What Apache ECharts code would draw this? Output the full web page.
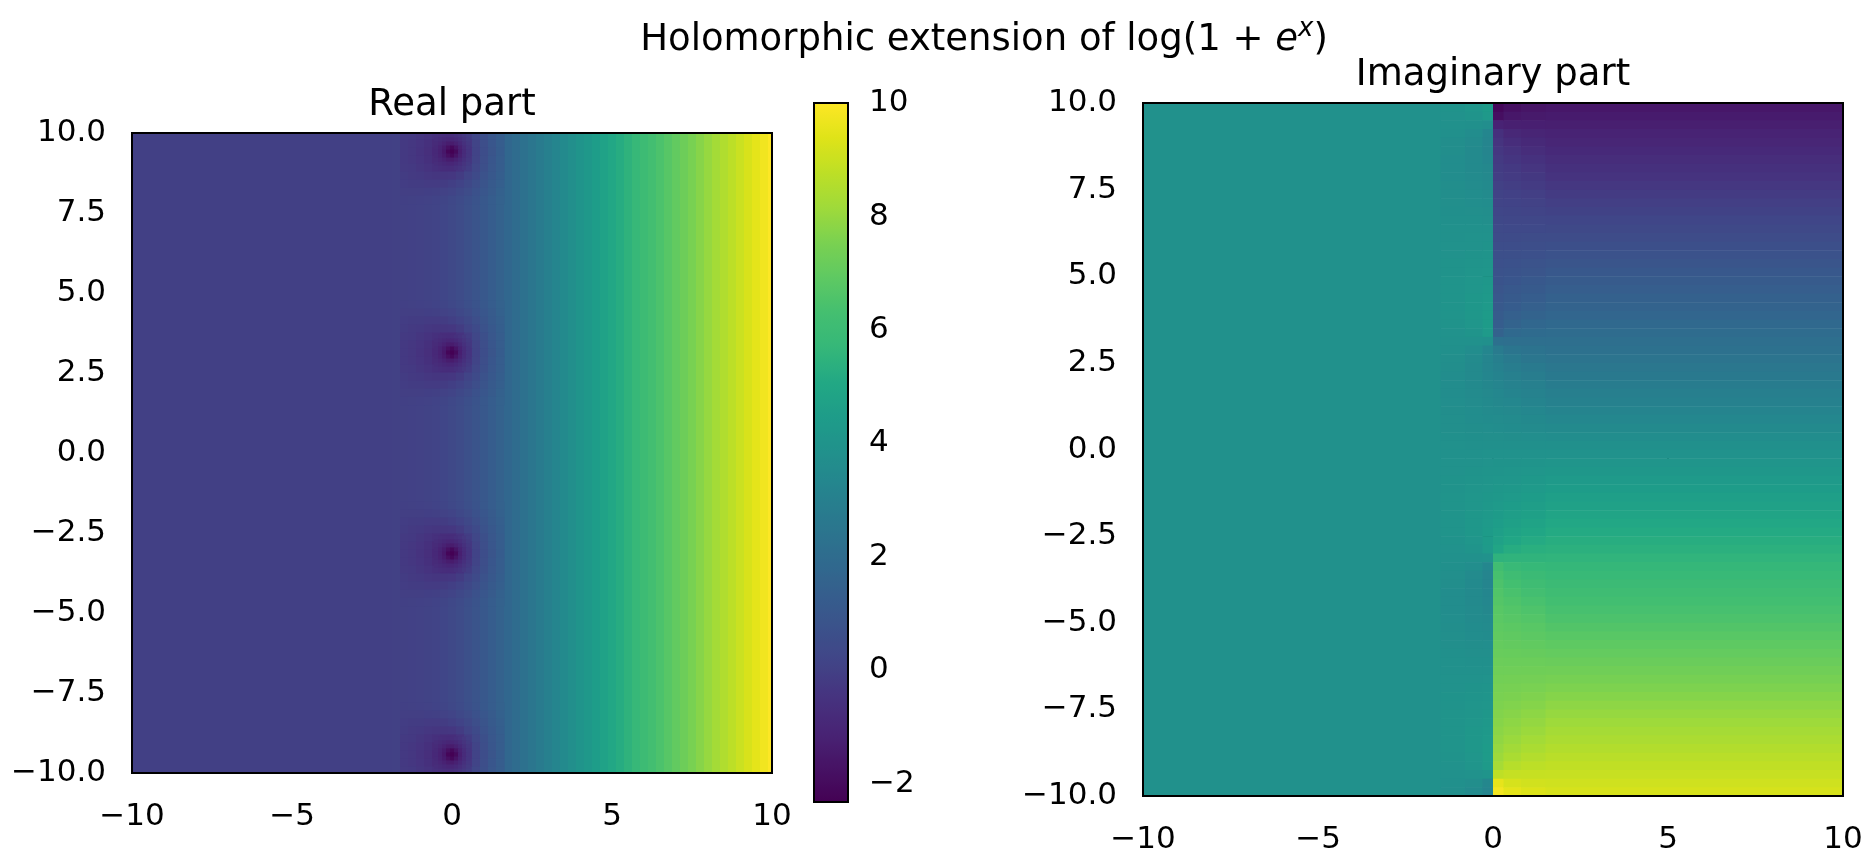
<!DOCTYPE html>
<html>
<head>
<meta charset="utf-8">
<title>Holomorphic extension of log(1 + e^x)</title>
<script src="https://cdn.jsdelivr.net/npm/echarts@6/dist/echarts.min.js"></script>
<style>
  html, body { margin: 0; padding: 0; background: #fff; }
  #chart { width: 1866px; height: 855px; }
</style>
</head>
<body>
<div id="chart"></div>
<script>
// ---- values ----

// real part, one value per column strip, x = -10 .. 10 by 0.25
const realColumns = [
  0, 0, 0, 0, 0, 0, 0, 0, 0, 0,
  0, 0, 0, 0, 0, 0, 0, 0, 0, 0,
  0, 0, 0, 0, 0, 0, 0, 0, 0, 0,
  0.00, 0.01, 0.01, 0.02, 0.02, 0.04, 0.06, 0.10, 0.16, 0.24,
  0.35, 0.49, 0.66, 0.85, 1.06, 1.29, 1.52, 1.77, 2.01, 2.26,
  2.50, 2.75, 3.00,
  3.25, 3.5, 3.75, 4.0, 4.25, 4.5, 4.75, 5.0, 5.25, 5.5,
  5.75, 6.0, 6.25, 6.5, 6.75, 7.0, 7.25, 7.5, 7.75, 8.0,
  8.25, 8.5, 8.75, 9.0, 9.25, 9.5, 9.75, 10.0
];

// the dark spots on the x = 0 line
const poleCentres = [9.42, 3.14, -3.14, -9.42];

// real part around one dark spot: rows dy = +1.5 .. -1.5, columns dx = -1.5 .. 1.5 (step 0.25)
const poleProfile = [
  [ 0.01,  0.02,  0.04,  0.07,  0.12,  0.20,  0.31,  0.45,  0.62, 0.82, 1.04, 1.27, 1.51],
  [-0.05, -0.05, -0.05, -0.04, -0.01,  0.06,  0.16,  0.31,  0.49, 0.71, 0.95, 1.20, 1.45],
  [-0.11, -0.13, -0.15, -0.17, -0.17, -0.13, -0.04,  0.12,  0.33, 0.58, 0.85, 1.12, 1.39],
  [-0.16, -0.21, -0.26, -0.32, -0.37, -0.38, -0.31, -0.13,  0.13, 0.43, 0.74, 1.04, 1.34],
  [-0.21, -0.27, -0.36, -0.47, -0.60, -0.72, -0.70, -0.46, -0.10, 0.28, 0.64, 0.98, 1.29],
  [-0.24, -0.32, -0.43, -0.59, -0.82, -1.16, -1.39, -0.91, -0.32, 0.16, 0.57, 0.93, 1.26],
  [-0.25, -0.34, -0.46, -0.64, -0.93, -1.51, -2.32, -1.26, -0.43, 0.11, 0.54, 0.91, 1.25],
  [-0.24, -0.32, -0.43, -0.59, -0.82, -1.16, -1.39, -0.91, -0.32, 0.16, 0.57, 0.93, 1.26],
  [-0.21, -0.27, -0.36, -0.47, -0.60, -0.72, -0.70, -0.46, -0.10, 0.28, 0.64, 0.98, 1.29],
  [-0.16, -0.21, -0.26, -0.32, -0.37, -0.38, -0.31, -0.13,  0.13, 0.43, 0.74, 1.04, 1.34],
  [-0.11, -0.13, -0.15, -0.17, -0.17, -0.13, -0.04,  0.12,  0.33, 0.58, 0.85, 1.12, 1.39],
  [-0.05, -0.05, -0.05, -0.04, -0.01,  0.06,  0.16,  0.31,  0.49, 0.71, 0.95, 1.20, 1.45],
  [ 0.01,  0.02,  0.04,  0.07,  0.12,  0.20,  0.31,  0.45,  0.62, 0.82, 1.04, 1.27, 1.51]
];
// finer look at the core of a spot: rows dy = +0.5 .. -0.5, columns dx = -0.5 .. 0.5 (step 0.125)
const poleCore = [
  [-0.60, -0.66, -0.72, -0.74, -0.70, -0.61, -0.46, -0.29, -0.10],
  [-0.72, -0.82, -0.93, -1.00, -0.99, -0.87, -0.68, -0.45, -0.22],
  [-0.82, -0.98, -1.16, -1.34, -1.39, -1.21, -0.91, -0.61, -0.32],
  [-0.90, -1.11, -1.40, -1.80, -2.08, -1.67, -1.15, -0.74, -0.40],
  [-0.93, -1.16, -1.51, -2.14, -2.32, -2.02, -1.26, -0.79, -0.43],
  [-0.90, -1.11, -1.40, -1.80, -2.08, -1.67, -1.15, -0.74, -0.40],
  [-0.82, -0.98, -1.16, -1.34, -1.39, -1.21, -0.91, -0.61, -0.32],
  [-0.72, -0.82, -0.93, -1.00, -0.99, -0.87, -0.68, -0.45, -0.22],
  [-0.60, -0.66, -0.72, -0.74, -0.70, -0.61, -0.46, -0.29, -0.10]
];

// imaginary part, rows from the top (y = 9.875) down to y = -9.875, step 0.25
const imagLeftMid = [ // x in [-1.5, -0.8]
  0.19, 0.09, -0.02, -0.13, -0.22, -0.28, -0.32, -0.32, -0.31, -0.28,
  -0.24, -0.19, -0.14, -0.08, -0.02, 0.04, 0.10, 0.15, 0.21, 0.25,
  0.29, 0.31, 0.32, 0.31, 0.27, 0.20, 0.11, -0.01, -0.12, -0.21,
  -0.28, -0.31, -0.32, -0.31, -0.29, -0.25, -0.20, -0.15, -0.09, -0.03,
  0.03, 0.09, 0.15, 0.20, 0.25, 0.29, 0.31, 0.32, 0.31, 0.28,
  0.21, 0.12, 0.01, -0.11, -0.20, -0.27, -0.31, -0.32, -0.31, -0.29,
  -0.25, -0.21, -0.15, -0.10, -0.04, 0.02, 0.08, 0.14, 0.19, 0.24,
  0.28, 0.31, 0.32, 0.32, 0.28, 0.22, 0.13, 0.02, -0.09, -0.19
];
const imagLeftNear = [ // x in [-0.8, -0.3]
  0.48, 0.26, -0.07, -0.36, -0.54, -0.61, -0.61, -0.58, -0.53, -0.46,
  -0.38, -0.30, -0.21, -0.12, -0.03, 0.06, 0.15, 0.24, 0.32, 0.41,
  0.48, 0.54, 0.59, 0.61, 0.59, 0.53, 0.30, -0.02, -0.33, -0.52,
  -0.60, -0.61, -0.59, -0.54, -0.47, -0.39, -0.31, -0.23, -0.14, -0.05,
  0.05, 0.14, 0.23, 0.31, 0.39, 0.47, 0.54, 0.59, 0.61, 0.60,
  0.52, 0.33, 0.02, -0.30, -0.53, -0.59, -0.61, -0.59, -0.54, -0.48,
  -0.41, -0.32, -0.24, -0.15, -0.06, 0.03, 0.12, 0.21, 0.30, 0.38,
  0.46, 0.53, 0.58, 0.61, 0.61, 0.54, 0.36, 0.07, -0.26, -0.48
];
const imagLeftEdge = [ // x in [-0.3, 0]
  1.03, 0.83, -0.30, -0.96, -1.04, -1.00, -0.92, -0.82, -0.72, -0.61,
  -0.50, -0.39, -0.27, -0.16, -0.04, 0.07, 0.19, 0.30, 0.42, 0.53,
  0.64, 0.75, 0.85, 0.94, 1.01, 1.03, 0.89, -0.10, -0.93, -1.04,
  -1.00, -0.93, -0.84, -0.73, -0.63, -0.52, -0.40, -0.29, -0.17, -0.06,
  0.06, 0.17, 0.29, 0.40, 0.52, 0.63, 0.73, 0.84, 0.93, 1.00,
  1.04, 0.93, 0.10, -0.89, -1.03, -1.01, -0.94, -0.85, -0.75, -0.64,
  -0.53, -0.42, -0.30, -0.19, -0.07, 0.04, 0.16, 0.27, 0.39, 0.50,
  0.61, 0.72, 0.82, 0.92, 1.00, 1.04, 0.96, 0.30, -0.83, -1.03
];
const imagRightEdge = [ // x in [0, 0.3]
  -10.91, -10.46, -9.08, -8.16, -7.84, -7.63, -7.46, -7.30, -7.16, -7.01,
  -6.87, -6.74, -6.60, -6.47, -6.33, -6.20, -6.06, -5.93, -5.79, -5.66,
  -5.52, -5.37, -5.22, -5.07, -4.89, -4.66, -4.26, -3.02, -1.95, -1.59,
  -1.37, -1.20, -1.04, -0.89, -0.75, -0.61, -0.47, -0.34, -0.20, -0.07,
  0.07, 0.20, 0.34, 0.47, 0.61, 0.75, 0.89, 1.04, 1.20, 1.37,
  1.59, 1.95, 3.02, 4.26, 4.66, 4.89, 5.07, 5.22, 5.37, 5.52,
  5.66, 5.79, 5.93, 6.06, 6.20, 6.33, 6.47, 6.60, 6.74, 6.87,
  7.01, 7.16, 7.30, 7.46, 7.63, 7.84, 8.16, 9.08, 10.46, 10.91
];
const imagRightNear = [ // x in [0.3, 0.8]
  -10.36, -9.88, -9.31, -8.76, -8.34, -8.02, -7.76, -7.54, -7.35, -7.17,
  -6.99, -6.82, -6.66, -6.50, -6.34, -6.18, -6.02, -5.86, -5.70, -5.53,
  -5.36, -5.17, -4.97, -4.74, -4.47, -4.16, -3.67, -3.10, -2.54, -2.11,
  -1.77, -1.51, -1.29, -1.09, -0.90, -0.73, -0.56, -0.40, -0.24, -0.08,
  0.08, 0.24, 0.40, 0.56, 0.73, 0.90, 1.09, 1.29, 1.51, 1.77,
  2.11, 2.54, 3.10, 3.67, 4.16, 4.47, 4.74, 4.97, 5.17, 5.36,
  5.53, 5.70, 5.86, 6.02, 6.18, 6.34, 6.50, 6.66, 6.82, 6.99,
  7.17, 7.35, 7.54, 7.76, 8.02, 8.34, 8.76, 9.31, 9.88, 10.36
];
const imagRightMid = [ // x in [0.8, 1.5]
  -10.07, -9.72, -9.35, -8.99, -8.65, -8.34, -8.06, -7.80, -7.57, -7.35,
  -7.13, -6.93, -6.74, -6.54, -6.35, -6.16, -5.97, -5.78, -5.58, -5.38,
  -5.16, -4.94, -4.70, -4.44, -4.15, -3.83, -3.48, -3.12, -2.76, -2.41,
  -2.10, -1.81, -1.55, -1.31, -1.09, -0.88, -0.68, -0.48, -0.29, -0.10,
  0.10, 0.29, 0.48, 0.68, 0.88, 1.09, 1.31, 1.55, 1.81, 2.10,
  2.41, 2.76, 3.12, 3.48, 3.83, 4.15, 4.44, 4.70, 4.94, 5.16,
  5.38, 5.58, 5.78, 5.97, 6.16, 6.35, 6.54, 6.74, 6.93, 7.13,
  7.35, 7.57, 7.80, 8.06, 8.34, 8.65, 8.99, 9.35, 9.72, 10.07
];
const imagRightFar = [ // x in [1.5, 10]
  -9.88, -9.63, -9.38, -9.13, -8.88, -8.63, -8.38, -8.13, -7.88, -7.63,
  -7.38, -7.13, -6.88, -6.63, -6.38, -6.13, -5.88, -5.63, -5.38, -5.13,
  -4.88, -4.63, -4.38, -4.13, -3.88, -3.63, -3.38, -3.13, -2.88, -2.63,
  -2.38, -2.13, -1.88, -1.63, -1.38, -1.13, -0.88, -0.63, -0.38, -0.13,
  0.13, 0.38, 0.63, 0.88, 1.13, 1.38, 1.63, 1.88, 2.13, 2.38,
  2.63, 2.88, 3.13, 3.38, 3.63, 3.88, 4.13, 4.38, 4.63, 4.88,
  5.13, 5.38, 5.63, 5.88, 6.13, 6.38, 6.63, 6.88, 7.13, 7.38,
  7.63, 7.88, 8.13, 8.38, 8.63, 8.88, 9.13, 9.38, 9.63, 9.88
];
// x in [-10, -1.5]
const imagLeftFar = 0;

const colorbarTicks = [-2, 0, 2, 4, 6, 8, 10];
const realRange = [-2.32, 10];
const imagRange = [-11.3, 11.3];

const viridis = [
  '#440154', '#471365', '#482475', '#46337f', '#414487', '#3b528b', '#355f8d',
  '#2f6c8e', '#2a788e', '#25848e', '#21918c', '#1e9c89', '#22a884', '#35b779',
  '#44bf70', '#5ec962', '#7ad151', '#9fda3a', '#bddf26', '#dfe318', '#fde725'
];

// ---- cells: [x centre, y centre, width, height, value] ----
const realCells = [];
realColumns.forEach((v, i) => realCells.push([-10 + i * 0.25, 0, 0.25, 20, v]));
poleCentres.forEach(py => {
  poleProfile.forEach((row, r) => {
    row.forEach((v, c) => realCells.push([-1.5 + c * 0.25, py + 1.5 - r * 0.25, 0.25, 0.25, v]));
  });
  poleCore.forEach((row, r) => {
    row.forEach((v, c) => realCells.push([-0.5 + c * 0.125, py + 0.5 - r * 0.125, 0.125, 0.125, v]));
  });
});

const imagCells = [[-5.75, 0, 8.5, 20, imagLeftFar]];
const imagBands = [
  [imagLeftMid, -1.15, 0.7],
  [imagLeftNear, -0.55, 0.5],
  [imagLeftEdge, -0.15, 0.3],
  [imagRightEdge, 0.15, 0.3],
  [imagRightNear, 0.55, 0.5],
  [imagRightMid, 1.15, 0.7],
  [imagRightFar, 5.75, 8.5]
];
imagBands.forEach(([vals, xc, w]) => {
  vals.forEach((v, i) => imagCells.push([xc, 9.875 - i * 0.25, w, 0.25, v]));
});

// ---- chart ----
const FONT = 'DejaVu Sans';
const minus = s => String(s).replace('-', '\u2212');

function renderCell(params, api) {
  const x = api.value(0), y = api.value(1), w = api.value(2), h = api.value(3);
  const a = api.coord([x - w / 2, y + h / 2]);
  const b = api.coord([x + w / 2, y - h / 2]);
  return {
    type: 'rect',
    shape: { x: a[0], y: a[1], width: b[0] - a[0] + 0.6, height: b[1] - a[1] + 0.6 },
    style: { fill: api.visual('color') }
  };
}

function plotAxis(gridIndex, dim) {
  return {
    gridIndex: gridIndex,
    type: 'value',
    min: -10,
    max: 10,
    interval: dim === 'x' ? 5 : 2.5,
    axisLine: { show: false },
    axisTick: { show: true, length: 10, lineStyle: { color: '#000', width: 2 } },
    axisLabel: {
      color: '#000', fontFamily: FONT, fontSize: 31,
      margin: dim === 'x' ? 28 : 26,
      formatter: v => dim === 'x' ? minus(v) : minus(v.toFixed(1))
    },
    splitLine: { show: false }
  };
}

const frame = { show: true, borderColor: '#000', borderWidth: 2, backgroundColor: 'transparent', z: 10 };
const centred = { align: 'center', verticalAlign: 'middle', textAlign: 'center', textVerticalAlign: 'middle' };

const chart = echarts.init(document.getElementById('chart'));
chart.setOption({
  animation: false,
  backgroundColor: '#fff',
  grid: [
    Object.assign({ left: 132, top: 133, width: 640, height: 640 }, frame),
    Object.assign({ left: 814, top: 103, width: 34, height: 699 }, frame),
    Object.assign({ left: 1143, top: 103, width: 700, height: 699 }, frame)
  ],
  xAxis: [
    plotAxis(0, 'x'),
    { gridIndex: 1, type: 'value', min: 0, max: 1, show: false },
    plotAxis(2, 'x')
  ],
  yAxis: [
    plotAxis(0, 'y'),
    {
      gridIndex: 1, type: 'value', position: 'right',
      min: realRange[0], max: realRange[1],
      axisLine: { show: false },
      axisTick: { show: true, length: 10, customValues: colorbarTicks, lineStyle: { color: '#000', width: 2 } },
      axisLabel: {
        color: '#000', fontFamily: FONT, fontSize: 31, margin: 21,
        customValues: colorbarTicks, formatter: v => minus(v)
      },
      splitLine: { show: false }
    },
    plotAxis(2, 'y')
  ],
  visualMap: [
    {
      type: 'continuous', seriesIndex: 0, dimension: 4,
      min: realRange[0], max: realRange[1],
      inRange: { color: viridis },
      calculable: false, hoverLink: false,
      left: 814, top: 103, itemWidth: 34, itemHeight: 699, padding: 0
    },
    {
      type: 'continuous', seriesIndex: 1, dimension: 4,
      min: imagRange[0], max: imagRange[1],
      inRange: { color: viridis }, show: false
    }
  ],
  graphic: [
    {
      type: 'text', x: 984, y: 40, silent: true,
      style: Object.assign({
        text: '{t|Holomorphic extension of log(1 + }{i|e}{s|x}{t|)}',
        fill: '#000',
        rich: {
          t: { fontFamily: FONT, fontSize: 37, lineHeight: 48, fill: '#000' },
          i: { fontFamily: FONT, fontSize: 37, lineHeight: 48, fontStyle: 'italic', fill: '#000' },
          s: { fontFamily: FONT, fontSize: 26, lineHeight: 26, fontStyle: 'italic', verticalAlign: 'top', fill: '#000' }
        }
      }, centred)
    },
    {
      type: 'text', x: 452, y: 105, silent: true,
      style: Object.assign({ text: 'Real part', font: '37px "DejaVu Sans"', fill: '#000' }, centred)
    },
    {
      type: 'text', x: 1493, y: 75, silent: true,
      style: Object.assign({ text: 'Imaginary part', font: '37px "DejaVu Sans"', fill: '#000' }, centred)
    }
  ],
  series: [
    {
      type: 'custom', name: 'Real part', xAxisIndex: 0, yAxisIndex: 0,
      dimensions: ['x', 'y', 'w', 'h', 'value'], encode: { x: 'x', y: 'y' },
      renderItem: renderCell, data: realCells, clip: true, silent: true
    },
    {
      type: 'custom', name: 'Imaginary part', xAxisIndex: 2, yAxisIndex: 2,
      dimensions: ['x', 'y', 'w', 'h', 'value'], encode: { x: 'x', y: 'y' },
      renderItem: renderCell, data: imagCells, clip: true, silent: true
    }
  ]
});
</script>
</body>
</html>
